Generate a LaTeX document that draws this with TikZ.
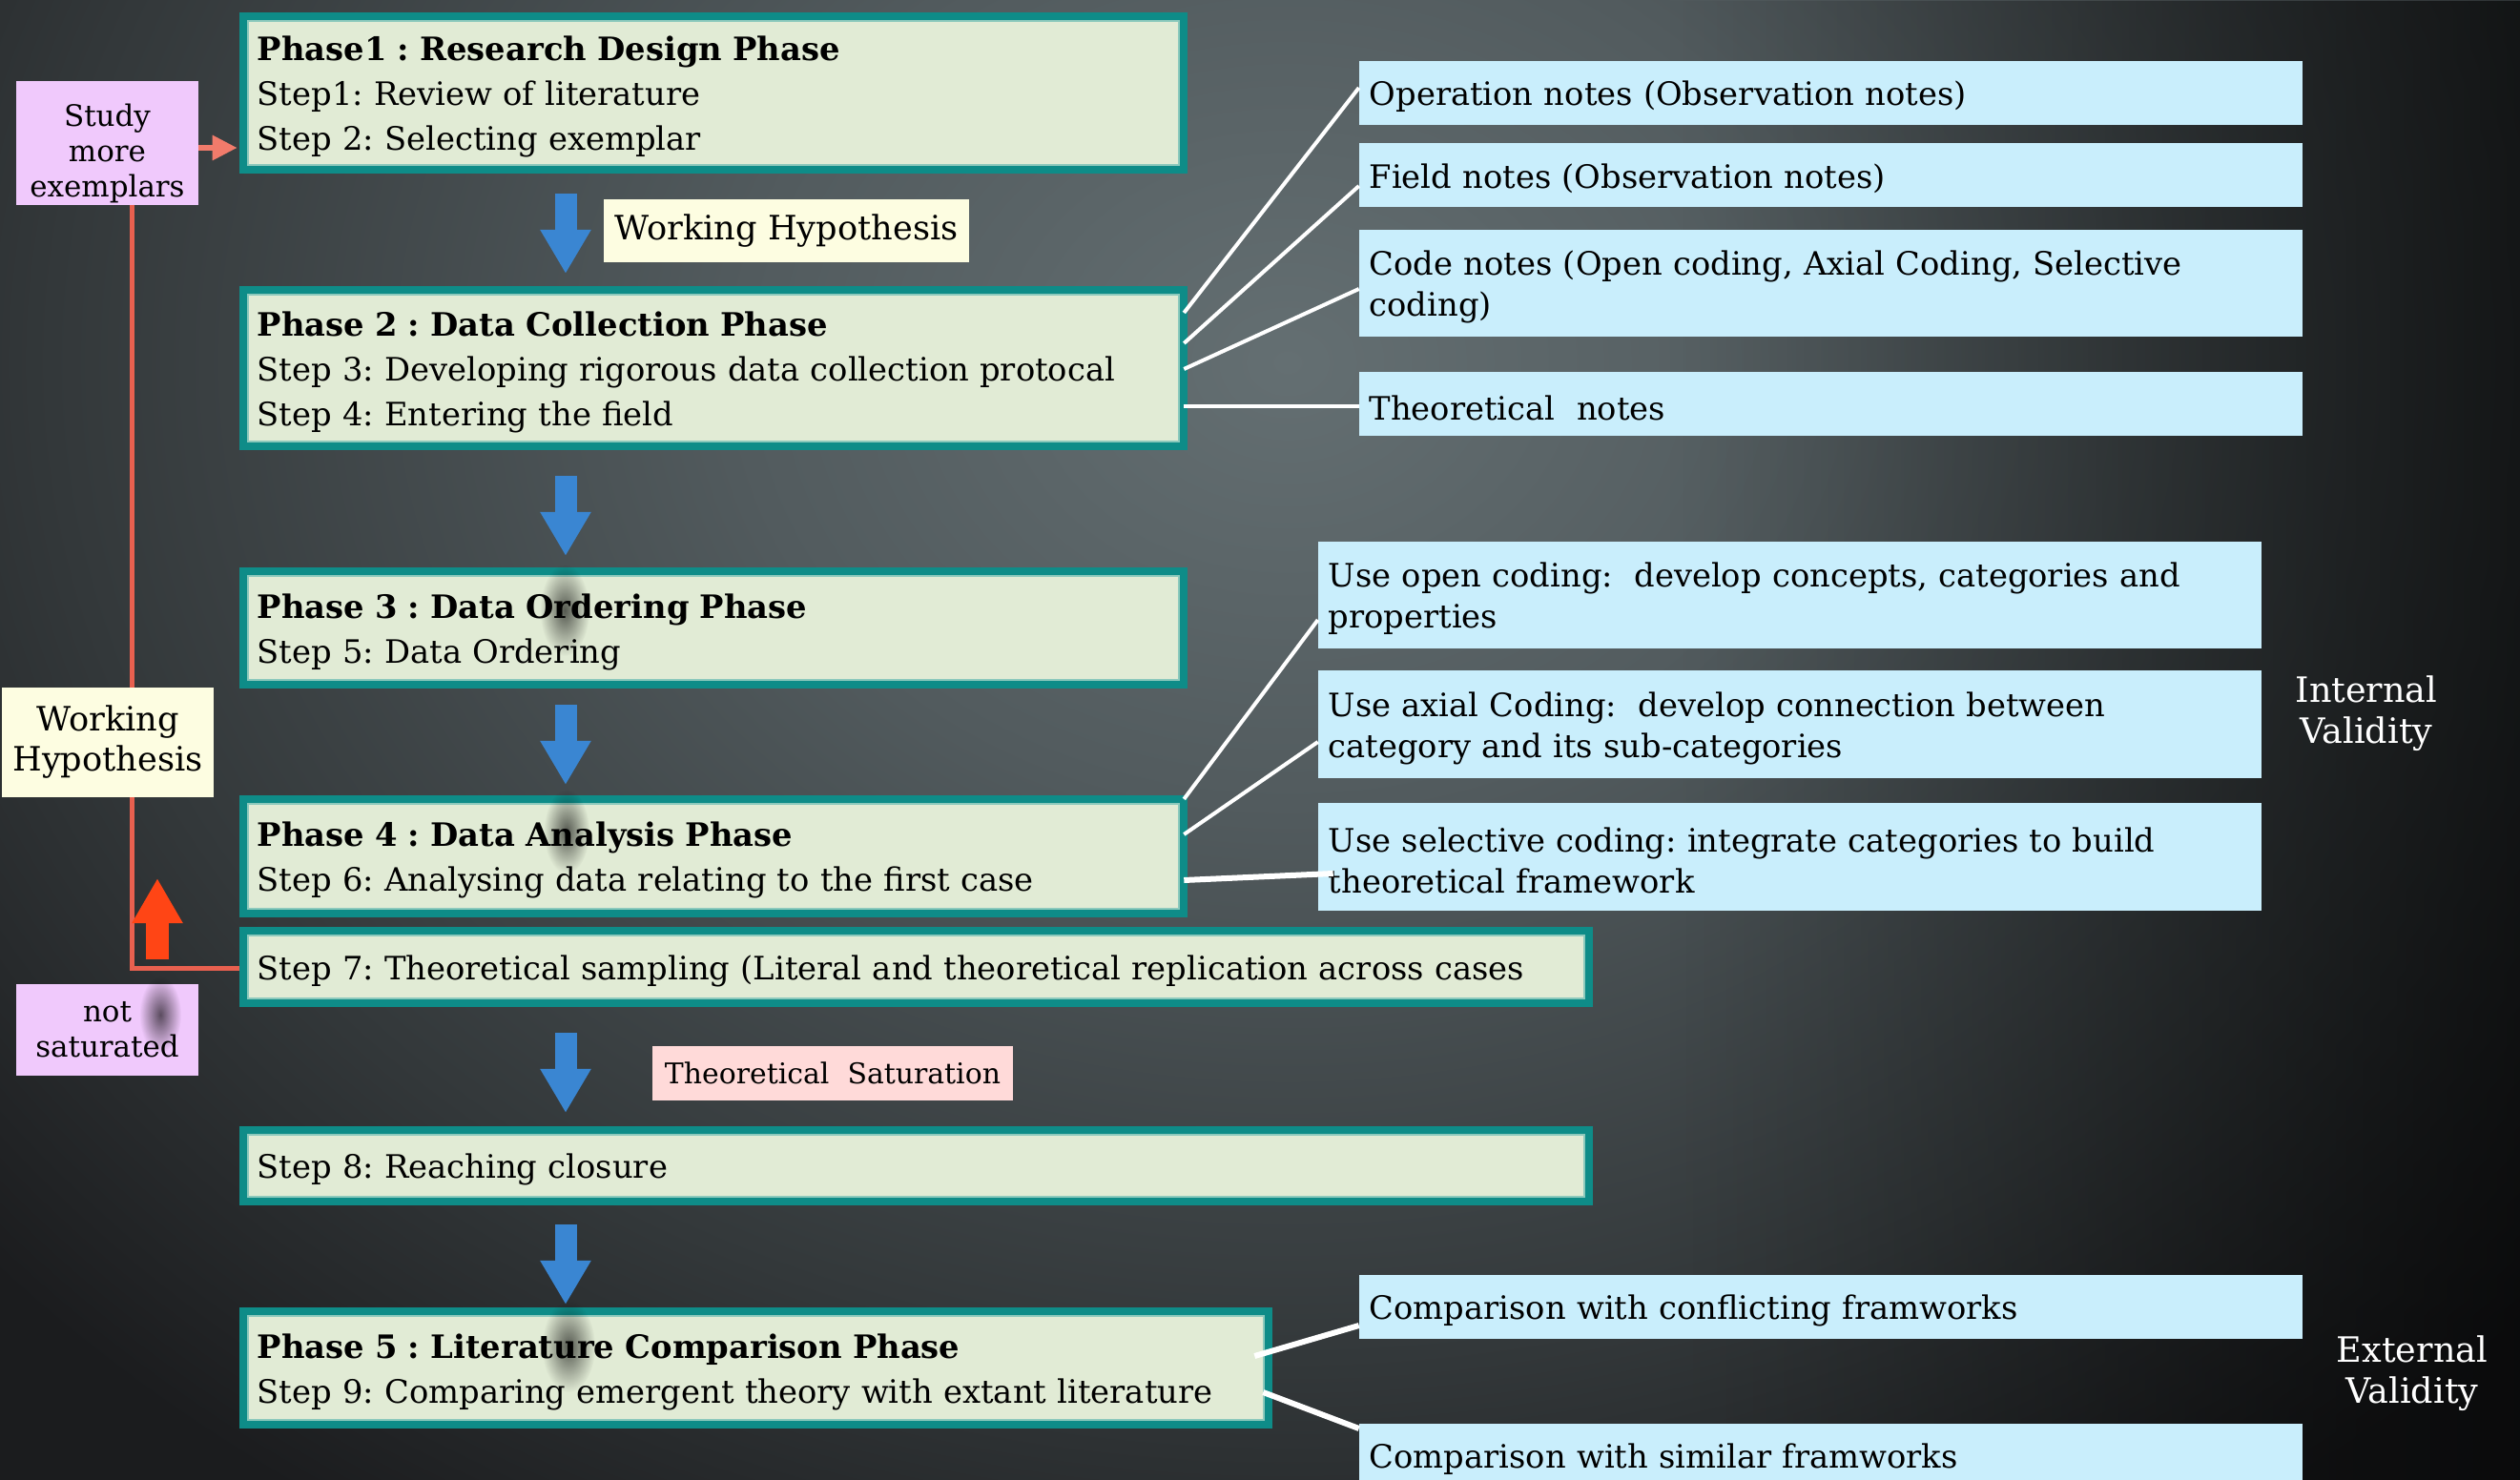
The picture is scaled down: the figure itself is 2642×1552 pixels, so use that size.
\documentclass[tikz,border=0pt]{standalone}
\usepackage{fontspec}
\setmainfont{DejaVu Serif}
\usetikzlibrary{arrows.meta,calc,fadings}

% palette
\definecolor{bgA}{HTML}{646F72}
\definecolor{bgB}{HTML}{525B5E}
\definecolor{bgC}{HTML}{33383A}
\definecolor{bgD}{HTML}{1B1C1E}
\definecolor{tealB}{HTML}{0E8C88}
\definecolor{rimteal}{HTML}{8CC9BC}
\definecolor{boxgreen}{HTML}{E1EBD5}
\definecolor{notecyan}{HTML}{C9EEFC}
\definecolor{tagyellow}{HTML}{FDFDE1}
\definecolor{tagpink}{HTML}{F0C9FC}
\definecolor{tagrose}{HTML}{FFDAD9}
\definecolor{flowblue}{HTML}{3A86D2}
\definecolor{upred}{HTML}{FF4515}
\definecolor{loopred}{HTML}{E8604F}
\definecolor{pinkarrow}{HTML}{F17B6B}

% the outer colour is reached at 25bp, i.e. on the rim of the shaded path
\pgfdeclareradialshading{backglow}{\pgfpoint{0bp}{0bp}}{%
  color(0bp)=(bgA); color(8bp)=(bgB); color(18bp)=(bgC); color(25bp)=(bgD); color(50bp)=(bgD)}
\tikzfading[name=darkright, left color=transparent!100, right color=transparent!0]
\tikzfading[name=softspot, inner color=transparent!0, outer color=transparent!100]

\newcommand\mainfs{\fontsize{9.6}{13.37}\selectfont}
\newcommand\notefs{\fontsize{9.6}{12.2}\selectfont}
\newcommand\tagfs{\fontsize{8.8}{10.5}\selectfont}
\newcommand\firstline{\rule{0pt}{9.6pt}}

\begin{document}
\frenchspacing
\begin{tikzpicture}[x=0.01cm, y=-0.01cm,
  phasebox/.style={draw=tealB, line width=0.08cm, fill=boxgreen, inner sep=0pt,
    outer sep=0pt, align=left, font=\mainfs, text=black,
    execute at begin node=\firstline},
  innerrim/.style={draw=rimteal, line width=0.02cm},
  notebox/.style={fill=notecyan, inner xsep=0.11cm, inner ysep=0pt, outer sep=0pt,
    align=left, font=\notefs, minimum width=9.89cm, text width=9.67cm,
    execute at begin node=\firstline},
  tagbox/.style={inner sep=0pt, outer sep=0pt, align=center, text=black},
  linkline/.style={draw=white, line width=0.04cm},
  flowarrow/.style={draw=flowblue, line width=0.23cm,
    -{Triangle[width=0.5cm,length=0.46cm]}},
  validity/.style={text=white, align=center, font=\fontsize{10.4}{12.2}\selectfont},
  shadowspot/.style={fill=black, opacity=0.62, path fading=softspot}]

\useasboundingbox (0,0) rectangle (2642,1552);
\begin{scope}
\clip (0,0) rectangle (2642,1552);

% backdrop
\fill[bgD] (0,0) rectangle (2642,1552);
\shade[shading=backglow] (1350,380) ellipse (1800 and 1450);
\fill[black, opacity=0.6, path fading=darkright] (1750,0) rectangle (2642,1552);

% feedback loop from step 7 back to the study box
\node[tagbox, fill=tagpink, font=\tagfs, minimum width=1.91cm, minimum height=1.29cm]
  (study) at (112.5,150) {\rule{0pt}{13pt}Study\\more\\exemplars};
\draw[loopred, line width=0.05cm] (study.south -| 138,0) |- (251,1015) coordinate (loopend);

% main phases
\node[phasebox, minimum width=9.86cm, minimum height=1.61cm, text width=9.56cm]
  (p1) at (748,97.5) {\textbf{Phase1 : Research Design Phase}\\Step1: Review of literature\\Step 2: Selecting exemplar};
\node[phasebox, minimum width=9.86cm, minimum height=1.64cm, text width=9.56cm]
  (p2) at (748,386) {\textbf{Phase 2 : Data Collection Phase}\\Step 3: Developing rigorous data collection protocal\\Step 4: Entering the field};
\node[phasebox, minimum width=9.86cm, minimum height=1.19cm, text width=9.56cm]
  (p3) at (748,658.5) {\textbf{Phase 3 : Data Ordering Phase}\\Step 5: Data Ordering};
\node[phasebox, minimum width=9.86cm, minimum height=1.20cm, text width=9.56cm]
  (p4) at (748,898) {\textbf{Phase 4 : Data Analysis Phase}\\Step 6: Analysing data relating to the first case};
\node[phasebox, minimum width=14.11cm, minimum height=0.76cm, text width=13.81cm]
  (s7) at (960.5,1014) {\mbox{Step 7: Theoretical sampling (Literal and theoretical replication across cases}};
\node[phasebox, minimum width=14.11cm, minimum height=0.75cm, text width=13.81cm]
  (s8) at (960.5,1222.5) {Step 8: Reaching closure};
\node[phasebox, minimum width=10.75cm, minimum height=1.19cm, text width=10.45cm]
  (p5) at (792.5,1434.5) {\textbf{Phase 5 : Literature Comparison Phase}\\Step 9: Comparing emergent theory with extant literature};
\foreach \b in {p1,p2,p3,p4,s7,s8,p5}
  \draw[innerrim] ($(\b.north west)+(5,5)$) rectangle ($(\b.south east)+(-5,-5)$);

% side tags
\node[tagbox, fill=tagyellow, font=\fontsize{10}{11.95}\selectfont,
  minimum width=2.22cm, minimum height=1.15cm] (hypL) at (113,778.5) {Working\\Hypothesis};
\node[tagbox, fill=tagpink, font=\tagfs, minimum width=1.91cm, minimum height=0.96cm]
  (notsat) at (112.5,1080) {not\\saturated};
\node[tagbox, fill=tagyellow, font=\fontsize{10}{12}\selectfont, minimum width=3.83cm,
  minimum height=0.66cm] (hypT) at (824.5,242) {Working Hypothesis};
\node[tagbox, fill=tagrose, font=\fontsize{8.5}{10}\selectfont, minimum width=3.78cm,
  minimum height=0.57cm] (sat) at (873,1125.5) {Theoretical~ Saturation};

% notes kept during data collection
\node[notebox, minimum height=0.67cm] (nA) at (1919.5,97.5) {Operation notes (Observation notes)};
\node[notebox, minimum height=0.67cm] (nB) at (1919.5,183.5) {Field notes (Observation notes)};
\node[notebox, minimum height=1.12cm] (nC) at (1919.5,297) {Code notes (Open coding, Axial Coding, Selective\\coding)};
\node[notebox, minimum height=0.67cm] (nD) at (1919.5,423.5) {Theoretical~ notes};

% coding procedures
\node[notebox, minimum height=1.12cm] (nE) at (1876.5,624) {Use open coding:~ develop concepts, categories and\\properties};
\node[notebox, minimum height=1.13cm] (nF) at (1876.5,759.5) {Use axial Coding:~ develop connection between\\category and its sub-categories};
\node[notebox, minimum height=1.13cm] (nG) at (1876.5,898.5) {Use selective coding: integrate categories to build\\theoretical framework};

% literature comparison
\node[notebox, minimum height=0.67cm] (nH) at (1919.5,1370.5) {Comparison with conflicting framworks};
\node[notebox, minimum height=0.67cm] (nI) at (1919.5,1526.5) {Comparison with similar framworks};

\node[validity] (intval) at (2481,748) {Internal\\Validity};
\node[validity] (extval) at (2529,1440) {External\\Validity};

% links to the notes
\draw[linkline] (p2.east |- 0,328) -- (nA.west |- 0,92);
\draw[linkline] (p2.east |- 0,360) -- (nB.west |- 0,195);
\draw[linkline] (p2.east |- 0,387) -- (nC.west |- 0,303);
\draw[linkline] (p2.east |- 0,426) -- (nD.west |- 0,426);
\draw[linkline] (p4.north east) -- (nE.west |- 0,650);
\draw[linkline] (p4.east |- 0,875) -- (nF.west |- 0,778);
\draw[linkline, line width=0.06cm] (p4.east |- 0,923) -- ($(nG.west |- 0,916)+(16,0)$);
\draw[linkline, line width=0.06cm] ($(p5.east |- 0,1422)+(-15,0)$) -- (nH.west |- 0,1390);
\draw[linkline, line width=0.06cm] ($(p5.east |- 0,1460)+(-6,0)$) -- (nI.west |- 0,1498);

% flow arrows
\coordinate (f1a) at (593,203);  \coordinate (f1b) at (593,287);
\coordinate (f2a) at (593,499);  \coordinate (f2b) at (593,583);
\coordinate (f3a) at (593,739);  \coordinate (f3b) at (593,823);
\coordinate (f4a) at (593,1083); \coordinate (f4b) at (593,1167);
\coordinate (f5a) at (593,1284); \coordinate (f5b) at (593,1368);
\foreach \i in {1,...,5} \draw[flowarrow] (f\i a) -- (f\i b);

% arrow shadows falling on the boxes
\fill[shadowspot] (592,640) ellipse (26 and 48);
\fill[shadowspot] (594,872) ellipse (24 and 44);
\fill[shadowspot] (596,1412) ellipse (28 and 48);
\fill[shadowspot] (168,1064) ellipse (22 and 40);

% pink arrow into phase 1
\draw[pinkarrow, line width=0.06cm, -{Triangle[width=0.25cm,length=0.26cm]}]
  (study.east |- 0,155) -- ($(p1.west |- 0,155)+(-6,0)$);

% red "not saturated" arrow
\coordinate (upA) at (165,1006); \coordinate (upB) at (165,921);
\draw[upred, line width=0.23cm, -{Triangle[width=0.5cm,length=0.47cm]}] (upA) -- (upB);

\end{scope}
\end{tikzpicture}
\end{document}
